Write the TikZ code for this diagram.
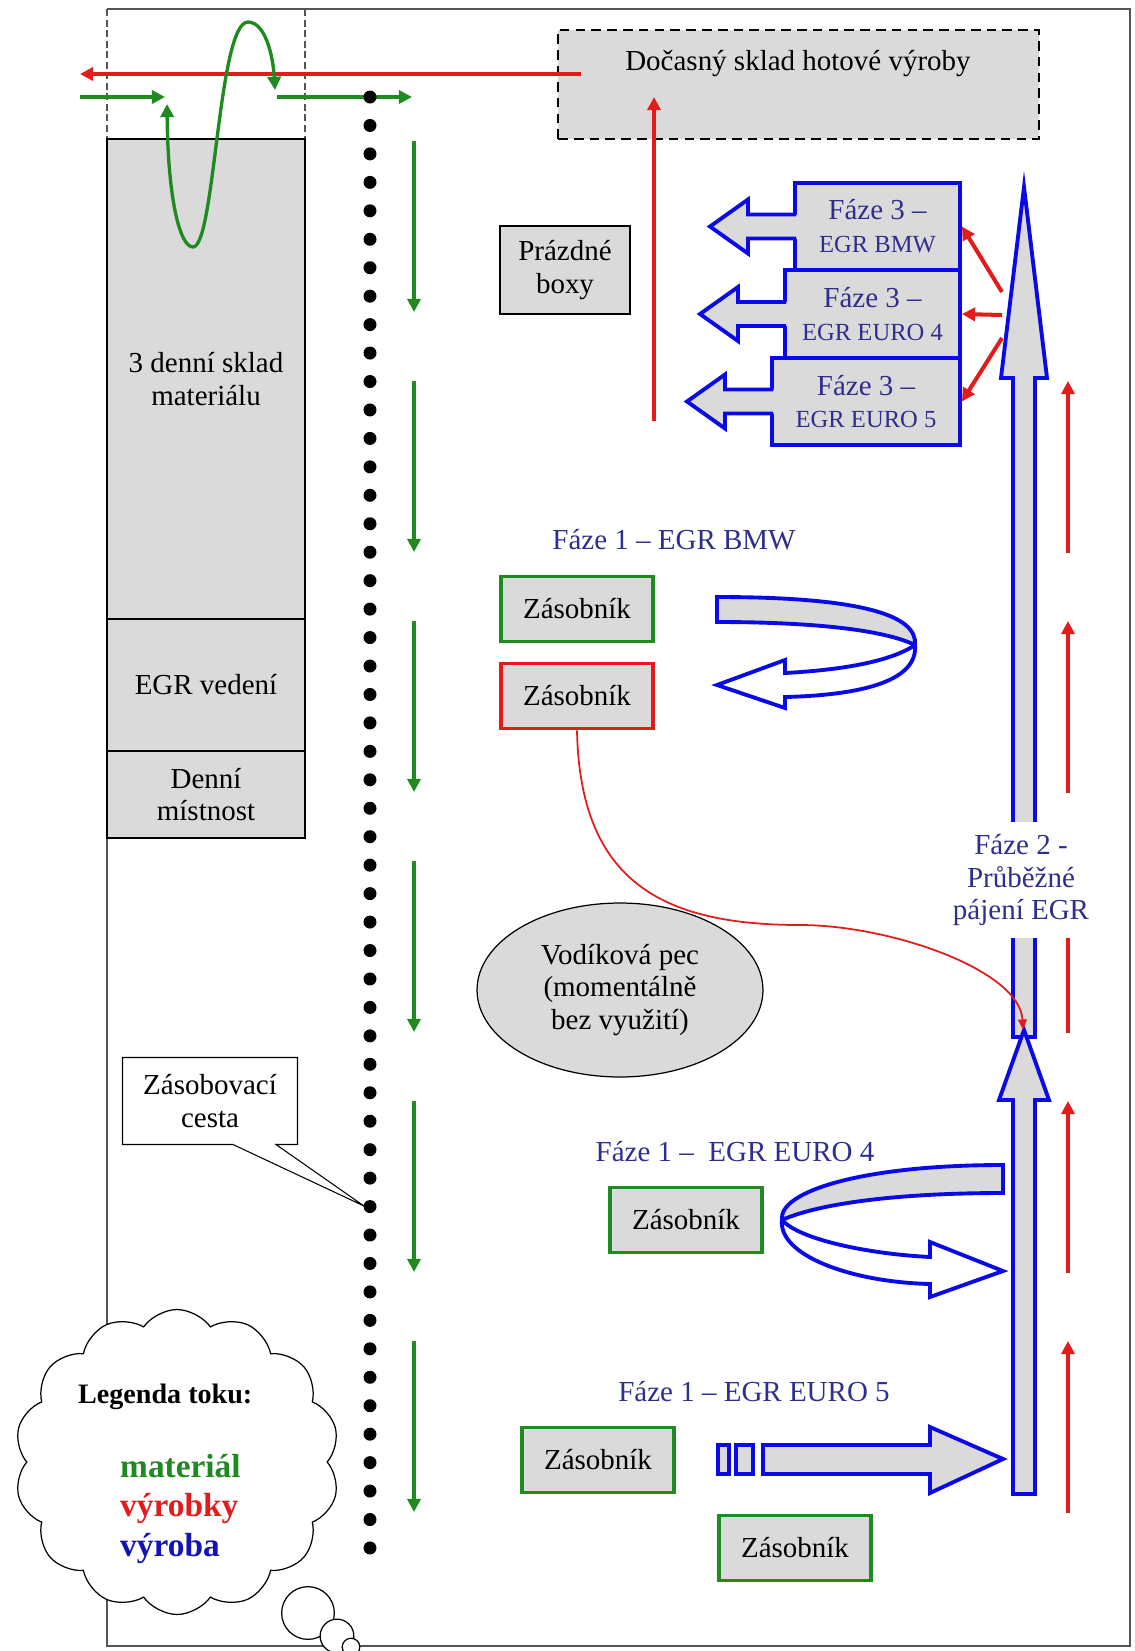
\documentclass[tikz,border=0pt]{standalone}
\usepackage{fontspec}
\setmainfont{Liberation Serif}
\usetikzlibrary{arrows.meta,shapes.geometric,shapes.symbols,shapes.callouts}
\definecolor{FlowGreen}{HTML}{1F8A1F}
\definecolor{FlowRed}{HTML}{E31B1B}
\definecolor{FlowBlue}{HTML}{0A0AE6}
\definecolor{LegendBlue}{HTML}{1414B4}
\definecolor{PhaseNavy}{HTML}{2E2E8C}
\definecolor{BoxGray}{HTML}{DADADA}
\definecolor{FrameGray}{HTML}{555555}

\tikzset{
  txt/.style={font=\fontsize{16.5}{18.7}\selectfont, align=center},
  room/.style={txt, draw=black, line width=0.7pt, fill=BoxGray, inner sep=0pt},
  zas/.style={txt, draw=FlowGreen, line width=2.2pt, fill=BoxGray, minimum width=3.05cm, minimum height=1.3cm},
  phase/.style={txt, text=PhaseNavy},
  f3box/.style={phase, draw=FlowBlue, line width=2.2pt, fill=BoxGray, inner sep=0pt},
  matflow/.style={FlowGreen, line width=1.9pt, -{Triangle[length=7.5pt,width=7.5pt]}},
  prodflow/.style={FlowRed, line width=1.9pt, -{Triangle[length=7.5pt,width=7.5pt]}},
  blockarrow/.style={draw=FlowBlue, line width=2.2pt, line join=miter},
  legword/.style={anchor=base west, font=\bfseries\fontsize{19}{22}\selectfont},
}

\begin{document}
\begin{tikzpicture}[x=0.02cm, y=-0.02cm]
    \useasboundingbox (0,0) rectangle (1134,1651);

    % =========================================
    % 1. hala: ramecek a sklady vlevo
    % =========================================
    \draw[FrameGray, line width=0.8pt] (107,139) -- (107,1646) -- (1130,1646) -- (1130,9) -- (107,9);
    \draw[FrameGray, line width=1pt, dash pattern=on 4pt off 2pt] (107,9) -- (107,139) (305,9) -- (305,139);

    \node[room, minimum width=3.96cm, minimum height=9.6cm] (sklad) at (206,379) {3 denní sklad\\materiálu};
    \node[room, minimum width=3.96cm, minimum height=2.64cm] (vedeni) at (206,685) {EGR vedení};
    \node[room, minimum width=3.96cm, minimum height=1.74cm] (mistnost) at (206,794.5) {Denní\\místnost};

    % docasny sklad nahore
    \node[room, line width=1pt, dash pattern=on 5.5pt off 3.5pt, minimum width=9.62cm, minimum height=2.18cm] (hotove) at (798.5,84.5) {};
    \node[txt] (hotovetxt) at (798,64) {Dočasný sklad hotové výroby};
    \node[room, minimum width=2.6cm, minimum height=1.76cm] (boxy) at (565,270) {Prázdné\\boxy};

    % =========================================
    % 2. vstup materialu a odvoz vyrobku
    % =========================================
    \coordinate (hotoveout) at (581,74);
    \coordinate (odvoz) at (80,74);
    \draw[prodflow, line width=2.3pt] (hotoveout) -- (odvoz);

    \coordinate (vstup) at (80,97);
    \coordinate (smycka) at (165,97);
    \draw[matflow] (vstup) -- (smycka);
    \coordinate (smyckaA) at (167,104);
    \coordinate (smyckaB) at (275,90);
    \draw[FlowGreen, line width=1.9pt, {Triangle[length=7.5pt,width=7.5pt]}-{Triangle[length=7.5pt,width=7.5pt]}]
        (smyckaA) .. controls (168,200) and (180,247) .. (193,247)
        .. controls (215,247) and (218,22) .. (248,22)
        .. controls (265,22) and (273,55) .. (smyckaB);
    \coordinate (vystup) at (277,97);
    \coordinate (cestastart) at (412,97);
    \draw[matflow] (vystup) -- (cestastart);

    \coordinate (f3out) at (654,421);
    \coordinate (hotovein) at (654,97);
    \draw[prodflow] (f3out) -- (hotovein);

    % zasobovaci cesta (tecky) + popisek
    \coordinate (cesta) at (364,1206);
    \node[txt, rectangle callout, draw=black, line width=0.6pt, fill=white,
          minimum width=3.5cm, minimum height=1.74cm,
          callout absolute pointer={(cesta)}, callout pointer width=0.86cm] (cestabox) at (210,1101) {Zásobovací\\cesta};
    \foreach \k in {0,...,51}
        \fill (370,{97+28.45*\k}) circle (3.7pt);

    % smer toku podel cesty
    \foreach \k in {0,...,5}
        \draw[matflow] (414,{141+240*\k}) -- (414,{312+240*\k});
    \foreach \k in {0,...,4}
        \draw[prodflow] (1068,{553+240*\k}) -- (1068,{381+240*\k});

    % =========================================
    % 3. Faze 3 (vystupni boxy)
    % =========================================
    \foreach \nm/\lft/\tp/\bt/\lab in {f3bmw/795/183/270/EGR BMW, f3e4/785/270/358/EGR EURO 4, f3e5/772/358/445/EGR EURO 5} {
        \pgfmathsetmacro{\ym}{(\tp+\bt)/2}
        \pgfmathsetmacro{\xm}{(\lft+960)/2}
        \pgfmathsetmacro{\bw}{(960-\lft)*0.02}
        \pgfmathsetmacro{\bh}{(\bt-\tp)*0.02}
        \node[f3box, minimum width=\bw cm, minimum height=\bh cm] (\nm) at (\xm,\ym) {Fáze 3 –\\\fontsize{14}{18.7}\selectfont \lab};
        \fill[BoxGray] ({\lft+3},{\ym-12}) -- ({\lft-47},{\ym-12}) -- ({\lft-47},{\ym-27}) -- ({\lft-85},\ym)
            -- ({\lft-47},{\ym+27}) -- ({\lft-47},{\ym+12}) -- ({\lft+3},{\ym+12}) -- cycle;
        \draw[blockarrow] ({\lft+1},{\ym-12}) -- ({\lft-47},{\ym-12}) -- ({\lft-47},{\ym-27}) -- ({\lft-85},\ym)
            -- ({\lft-47},{\ym+27}) -- ({\lft-47},{\ym+12}) -- ({\lft+1},{\ym+12});
    }

    % =========================================
    % 4. Faze 2 - prubezne pajeni (hlavni sipka)
    % =========================================
    \filldraw[blockarrow, fill=BoxGray] (1013,1037) -- (1013,378) -- (1001,378) -- (1024,187)
        -- (1047,378) -- (1035,378) -- (1035,1037) -- cycle;
    \filldraw[blockarrow, fill=BoxGray] (1013,1494) -- (1013,1100) -- (999,1100) -- (1024,1030)
        -- (1049,1100) -- (1035,1100) -- (1035,1494) -- cycle;

    \coordinate (rozvodA) at (1002,292);
    \coordinate (rozvodB) at (1002,315);
    \coordinate (rozvodC) at (1002,338);
    \draw[prodflow, line width=2.3pt] (rozvodA) -- (f3bmw.east);
    \draw[prodflow, line width=2.3pt] (rozvodB) -- (f3e4.east);
    \draw[prodflow, line width=2.3pt] (rozvodC) -- (f3e5.east);

    \node[phase, fill=white, inner xsep=3pt, inner ysep=7pt] (faze2) at (1021,880) {Fáze 2 -\\Průběžné\\pájení EGR};

    % =========================================
    % 5. Faze 1 - EGR BMW
    % =========================================
    \node[phase] (f1bmw) at (674,540) {Fáze 1 – EGR BMW};
    \node[zas] (zasbmw) at (577,609) {Zásobník};
    \node[zas, draw=FlowRed] (zasred) at (577,696) {Zásobník};

    \filldraw[blockarrow, fill=BoxGray] (717,597) .. controls (860,597) and (918,615) .. (915,645)
        .. controls (880,628) and (800,622) .. (717,622) -- cycle;
    \filldraw[blockarrow, fill=white] (915,645) .. controls (890,662) and (840,670) .. (785,673)
        -- (785,660) -- (717,685) -- (785,708) -- (785,697)
        .. controls (865,695) and (918,680) .. (915,645) -- cycle;

    % cervene vyrobky do pajeni
    \coordinate (pajenivstup) at (1023,1030);
    \draw[FlowRed, line width=1pt, -{Triangle[length=6pt,width=5pt]}] (zasred.south)
        .. controls (580,880) and (660,925) .. (800,925)
        .. controls (890,925) and (1020,970) .. (pajenivstup);

    \node[room, ellipse, minimum width=5.72cm, minimum height=3.48cm] (pec) at (620,990) {Vodíková pec\\(momentálně\\bez využití)};

    % =========================================
    % 6. Faze 1 - EGR EURO 4 / EURO 5
    % =========================================
    \node[phase] (f1e4) at (735,1152) {Fáze 1 –\ \ EGR EURO 4};
    \node[zas] (zase4) at (686,1220) {Zásobník};

    \filldraw[blockarrow, fill=BoxGray] (1003,1165) .. controls (860,1165) and (778,1192) .. (782,1220)
        .. controls (820,1203) and (900,1193) .. (1003,1193) -- cycle;
    \filldraw[blockarrow, fill=white] (782,1220) .. controls (800,1240) and (870,1254) .. (930,1257)
        -- (930,1242) -- (1003,1271) -- (930,1297) -- (930,1284)
        .. controls (850,1282) and (778,1255) .. (782,1220) -- cycle;

    \node[phase] (f1e5) at (754,1392) {Fáze 1 – EGR EURO 5};
    \node[zas] (zase5) at (598,1460) {Zásobník};
    \node[zas] (zase5b) at (795,1548) {Zásobník};

    \filldraw[blockarrow, fill=BoxGray] (718,1445) rectangle (729,1474);
    \filldraw[blockarrow, fill=BoxGray] (736,1445) rectangle (753,1474);
    \filldraw[blockarrow, fill=BoxGray] (763,1445) -- (930,1445) -- (930,1427) -- (1003,1459)
        -- (930,1493) -- (930,1474) -- (763,1474) -- cycle;

    % =========================================
    % 7. legenda (oblak)
    % =========================================
    \node[cloud, cloud puffs=14, cloud puff arc=110, aspect=1.1, draw=black, line width=0.7pt, fill=white,
          minimum width=6.5cm, minimum height=6.1cm] (legenda) at (177,1462) {};
    \draw[black, line width=0.7pt, fill=white] (308,1613) circle (15pt);
    \draw[black, line width=0.7pt, fill=white] (337,1636) circle (9.6pt);
    \draw[black, line width=0.7pt, fill=white] (351,1647) circle (5pt);

    \node[anchor=base west, font=\bfseries\fontsize{16}{19}\selectfont] (legtitle) at (72,1403) {Legenda toku:};
    \node[legword, text=FlowGreen] (legmat) at (114,1477) {materiál};
    \node[legword, text=FlowRed] (legvyr) at (114,1516) {výrobky};
    \node[legword, text=LegendBlue] (legvyroba) at (114,1556) {výroba};

\end{tikzpicture}
\end{document}
